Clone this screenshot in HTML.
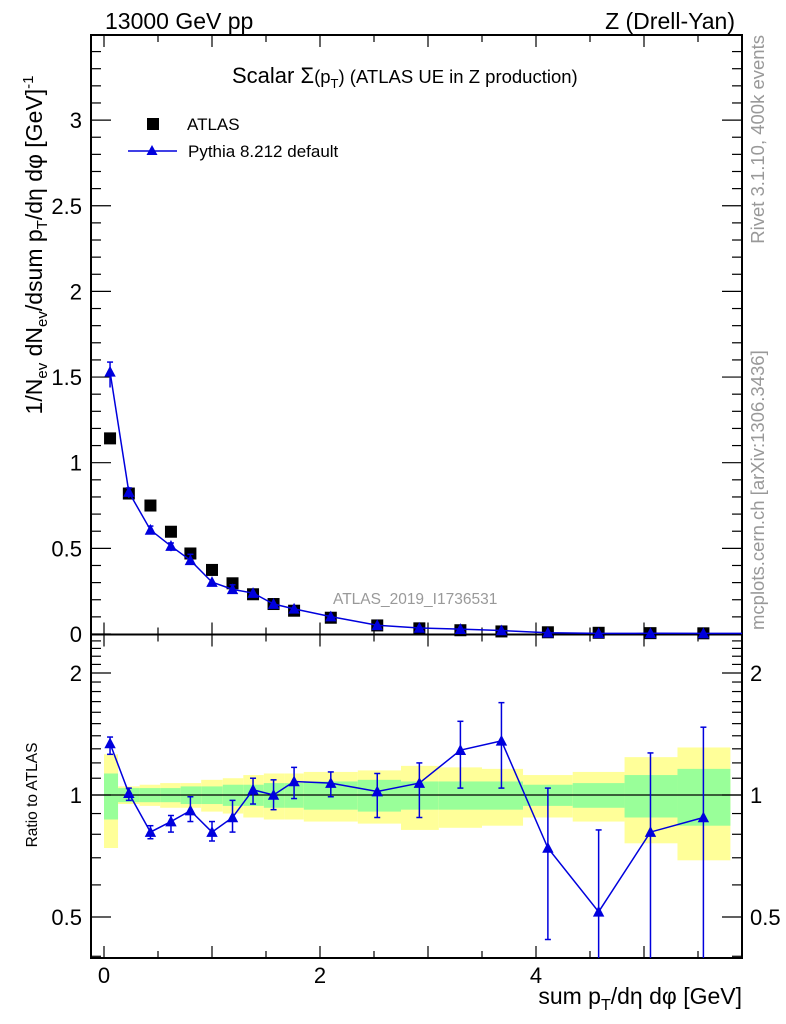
<!DOCTYPE html>
<html><head><meta charset="utf-8"><style>
body{margin:0;background:#fff;}
svg{display:block;font-family:"Liberation Sans",sans-serif;}
</style></head><body>
<svg id="chart" width="786" height="1024" viewBox="0 0 786 1024">
<g id="bands"></g>
<g id="frame"></g>
<g id="marks"></g>
<text x="105" y="29" font-size="23">13000 GeV pp</text>
<text x="735" y="29" font-size="23" text-anchor="end">Z (Drell-Yan)</text>
<text x="232" y="83" font-size="22">Scalar Σ<tspan font-size="18.5">(p</tspan><tspan font-size="13" dy="5">T</tspan><tspan font-size="18.5" dy="-5">)</tspan><tspan font-size="18.5"> (ATLAS UE in Z production)</tspan></text>
<rect x="147" y="118" width="12" height="12" fill="#000"/>
<text x="187" y="130" font-size="17">ATLAS</text>
<line x1="128" y1="151" x2="177" y2="151" stroke="#0000dd" stroke-width="1.5"/>
<polygon points="152,145 146.5,155 157.5,155" fill="#0000dd"/>
<text x="188" y="157" font-size="17">Pythia 8.212 default</text>
<text x="333" y="604" font-size="15.5" fill="#999">ATLAS_2019_I1736531</text>
<text transform="translate(42,245) rotate(-90)" font-size="23" text-anchor="middle">1/N<tspan font-size="15" dy="5">ev</tspan><tspan dy="-5"> dN</tspan><tspan font-size="15" dy="5">ev</tspan><tspan dy="-5">/dsum p</tspan><tspan font-size="15" dy="5">T</tspan><tspan dy="-5">/dη dφ  [GeV]</tspan><tspan font-size="15" dy="-9">-1</tspan></text>
<text transform="translate(37,795) rotate(-90)" font-size="15.5" text-anchor="middle">Ratio to ATLAS</text>
<text x="742" y="1004" font-size="23" text-anchor="end">sum p<tspan font-size="16" dy="6">T</tspan><tspan dy="-6">/dη dφ [GeV]</tspan></text>
<text transform="translate(764,35) rotate(-90)" font-size="18.5" fill="#999" text-anchor="end">Rivet 3.1.10,  400k events</text>
<text transform="translate(764,630) rotate(-90)" font-size="18.5" fill="#999">mcplots.cern.ch [arXiv:1306.3436]</text>
</svg>
<script>
const edges=[0,0.13,0.33,0.52,0.71,0.9,1.1,1.29,1.48,1.67,1.85,2.35,2.75,3.1,3.5,3.88,4.34,4.82,5.31,5.8];
const xCenters=[0.056,0.23,0.43,0.62,0.80,1.0,1.19,1.38,1.57,1.76,2.1,2.53,2.92,3.3,3.68,4.11,4.58,5.06,5.55];
const atlasValues=[1.142,0.82,0.75,0.597,0.47,0.374,0.296,0.232,0.175,0.136,0.095,0.05,0.033,0.022,0.015,0.01,0.007,0.005,0.004];
const ratioValues=[1.34,1.01,0.81,0.86,0.915,0.81,0.88,1.03,1.0,1.08,1.07,1.02,1.07,1.29,1.36,0.74,0.515,0.81,0.88];
const ratioHi=[1.39,1.04,0.84,0.89,0.99,0.86,0.97,1.1,1.09,1.17,1.14,1.13,1.2,1.52,1.69,1.04,0.82,1.27,1.47];
const ratioLo=[1.26,0.97,0.78,0.81,0.86,0.77,0.81,0.95,0.92,0.98,0.99,0.88,0.88,1.04,1.04,0.44,0.1,0.1,0.1];
const greenErr=[0.13,0.04,0.04,0.04,0.05,0.05,0.06,0.06,0.07,0.07,0.08,0.09,0.08,0.08,0.08,0.06,0.07,0.12,0.16];
const yellowErr=[0.26,0.05,0.06,0.07,0.07,0.09,0.10,0.12,0.13,0.13,0.14,0.15,0.18,0.17,0.16,0.12,0.14,0.24,0.31];
const xTickLabels=["0","2","4"];
const yTickLabels=["0","0.5","1","1.5","2","2.5","3"];
const rTickLabels=["0.5","1","2"];

const NS="http://www.w3.org/2000/svg";
const L=91,R=742,T=35,M=634.5,B=958;
const X=v=>104+108*v;
const Y=v=>634-171.3*v;
const RY=r=>795-122*Math.log2(r);
const clampR=y=>Math.max(M,Math.min(B,y));
function mk(tag,parent,attrs){const e=document.createElementNS(NS,tag);for(const k in attrs)e.setAttribute(k,attrs[k]);parent.appendChild(e);return e;}
const bands=document.getElementById('bands'),frame=document.getElementById('frame'),marks=document.getElementById('marks');

for(let i=0;i<xCenters.length;i++){
  const x0=X(edges[i]),x1=X(edges[i+1]);
  const yb=mk('rect',bands,{x:x0,y:clampR(RY(1+yellowErr[i])),width:x1-x0,height:clampR(RY(1-yellowErr[i]))-clampR(RY(1+yellowErr[i])),fill:'#ffff99'});
  
  
  const gb=mk('rect',bands,{x:x0,y:RY(1+greenErr[i]),width:x1-x0,height:RY(1-greenErr[i])-RY(1+greenErr[i]),fill:'#99ff99'});
  
  
}

mk('rect',frame,{x:L,y:T,width:R-L,height:B-T,fill:'none',stroke:'#000','stroke-width':2});
mk('line',frame,{x1:L,y1:M,x2:R,y2:M,stroke:'#000','stroke-width':2});
mk('line',frame,{x1:L,y1:RY(1),x2:R,y2:RY(1),stroke:'#000','stroke-width':1.2});
for(let k=0;k<=11;k++){const v=k*0.5,x=X(v);if(x>R)break;const len=(k%2===0)?12:7;
  [[B,-1],[M,-1],[M,1],[T,1]].forEach(([y0,d])=>mk('line',frame,{x1:x,y1:y0,x2:x,y2:y0+d*len,stroke:'#000','stroke-width':1.2}));}
xTickLabels.forEach(s=>{const t=mk('text',frame,{x:X(+s),y:983,'font-size':22,'text-anchor':'middle'});t.textContent=s;
  
  });
for(let k=0;k<=35;k++){const v=k*0.1,y=Y(v);if(y<T)break;const len=(k%5===0)?20:10;
  mk('line',frame,{x1:L,y1:y,x2:L+len,y2:y,stroke:'#000','stroke-width':1.2});
  mk('line',frame,{x1:R,y1:y,x2:R-len,y2:y,stroke:'#000','stroke-width':1.2});}
yTickLabels.forEach(s=>{const t=mk('text',frame,{x:82,y:Y(+s)+8,'font-size':22,'text-anchor':'end'});t.textContent=s;
  
  });
for(let k=4;k<=25;k++){const v=k*0.1,y=RY(v);if(y<M||y>B)continue;const major=(k===5||k===10||k===20);const len=major?20:10;
  mk('line',frame,{x1:L,y1:y,x2:L+len,y2:y,stroke:'#000','stroke-width':1.2});
  mk('line',frame,{x1:R,y1:y,x2:R-len,y2:y,stroke:'#000','stroke-width':1.2});}
rTickLabels.forEach(s=>{const y=RY(+s)+8;
  const t=mk('text',frame,{x:82,y:y,'font-size':22,'text-anchor':'end'});t.textContent=s;
  
  
  const t2=mk('text',frame,{x:750,y:y,'font-size':22});t2.textContent=s;
  
  });

const mc=atlasValues.map((v,i)=>v*ratioValues[i]);
const tri=(x,y,s)=>`${x},${y-s} ${x-s*0.95},${y+s*0.8} ${x+s*0.95},${y+s*0.8}`;
for(let i=0;i<xCenters.length;i++){
  const sq=mk('rect',marks,{x:X(xCenters[i])-6,y:Y(atlasValues[i])-6,width:12,height:12,fill:'#000'});
  
  
}
const pathMain=mk('polyline',marks,{points:xCenters.map((x,i)=>X(x)+','+Y(mc[i])).join(' '),fill:'none',stroke:'#0000dd','stroke-width':1.5});


mk('polyline',marks,{points:`${X(xCenters[xCenters.length-1])},${Y(mc[mc.length-1])} ${R},${Y(mc[mc.length-1])}`,fill:'none',stroke:'#0000dd','stroke-width':1.5});
for(let i=0;i<xCenters.length;i++){
  const x=X(xCenters[i]);
  const hi=Y(atlasValues[i]*ratioHi[i]),lo=Y(atlasValues[i]*ratioLo[i]);
  if(lo-hi>6){mk('line',marks,{x1:x,y1:hi,x2:x,y2:lo,stroke:'#0000dd','stroke-width':1.5});
    mk('line',marks,{x1:x-3,y1:hi,x2:x+3,y2:hi,stroke:'#0000dd','stroke-width':1.5});}
  const p=mk('polygon',marks,{points:tri(x,Y(mc[i]),6),fill:'#0000dd'});
  
  
}
const pathR=mk('polyline',marks,{points:xCenters.map((x,i)=>X(x)+','+RY(ratioValues[i])).join(' '),fill:'none',stroke:'#0000dd','stroke-width':1.5});


for(let i=0;i<xCenters.length;i++){
  const x=X(xCenters[i]);
  const hi=clampR(RY(ratioHi[i])),lo=clampR(RY(ratioLo[i]));
  mk('line',marks,{x1:x,y1:hi,x2:x,y2:lo,stroke:'#0000dd','stroke-width':1.5});
  if(hi>M)mk('line',marks,{x1:x-3,y1:hi,x2:x+3,y2:hi,stroke:'#0000dd','stroke-width':1.5});
  if(lo<B)mk('line',marks,{x1:x-3,y1:lo,x2:x+3,y2:lo,stroke:'#0000dd','stroke-width':1.5});
  const p=mk('polygon',marks,{points:tri(x,RY(ratioValues[i]),6),fill:'#0000dd'});
  
  
}
</script>
</body></html>
